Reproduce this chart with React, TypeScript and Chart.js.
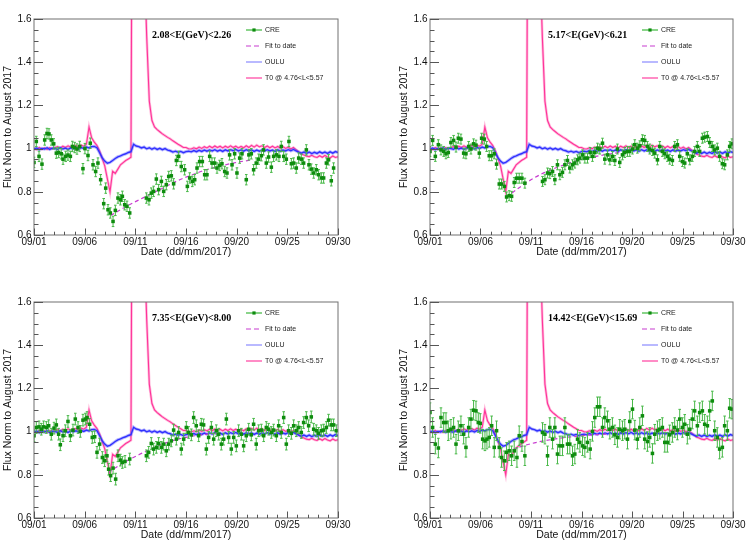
import { useEffect, useRef } from 'react';
import { Chart, registerables } from 'chart.js';

Chart.register(...registerables);

// ---------- shared axis / text data ----------
const dateLabels = ['09/01', '09/06', '09/11', '09/16', '09/20', '09/25', '09/30'];
const dateTickDays = [0, 4.833, 9.667, 14.5, 19.333, 24.167, 29];
const yTickValues = [0.6, 0.8, 1.0, 1.2, 1.4, 1.6];
const yTickLabels = ['0.6', '0.8', '1', '1.2', '1.4', '1.6'];
const legendLabels = ['CRE', 'Fit to date', 'OULU', 'T0 @ 4.76<L<5.57'];
const energyLabels = ['2.08<E(GeV)<2.26', '5.17<E(GeV)<6.21', '7.35<E(GeV)<8.00', '14.42<E(GeV)<15.69'];
const xTitle = 'Date (dd/mm/2017)';
const yTitle = 'Flux Norm to August 2017';

// ---------- OULU neutron monitor and T0 (shared by all panels) ----------
const lineDays = [0,0.25,0.5,0.75,1,1.25,1.5,1.75,2,2.25,2.5,2.75,3,3.25,3.5,3.75,4,4.25,4.5,4.75,5,5.25,5.5,5.75,6,6.25,6.5,6.75,7,7.25,7.5,7.75,8,8.25,8.5,8.75,9,9.25,9.5,9.75,10,10.25,10.5,10.75,11,11.25,11.5,11.75,12,12.25,12.5,12.75,13,13.25,13.5,13.75,14,14.25,14.5,14.75,15,15.25,15.5,15.75,16,16.25,16.5,16.75,17,17.25,17.5,17.75,18,18.25,18.5,18.75,19,19.25,19.5,19.75,20,20.25,20.5,20.75,21,21.25,21.5,21.75,22,22.25,22.5,22.75,23,23.25,23.5,23.75,24,24.25,24.5,24.75,25,25.25,25.5,25.75,26,26.25,26.5,26.75,27,27.25,27.5,27.75,28,28.25,28.5,28.75,29];

const ouluValues = [
  0.998,1.003,0.995,1.001, 0.998,1.004,0.996,1.002, 1.0,0.997,1.004,0.998, 1.002,0.996,1.003,0.999,
  1.004,0.998,1.005,1.001, 1.007,1.003,1.009,1.01, 1.004,0.982,0.958,0.942, 0.932,0.936,0.945,0.954,
  0.962,0.966,0.972,0.976, 0.982,0.986,1.02,1.012, 1.009,1.003,1.007,0.999, 1.004,0.997,1.003,0.996,
  1.001,0.995,1.0,0.993, 0.99,0.984,0.988,0.983, 0.987,0.981,0.986,0.988, 0.985,0.991,0.986,0.992,
  0.987,0.993,0.988,0.994, 0.989,0.995,0.988,0.993, 0.987,0.994,0.989,0.995, 0.99,0.996,0.989,0.994,
  0.988,0.995,0.989,0.994, 0.987,0.993,0.988,0.994, 0.989,0.995,0.989,0.993, 0.987,0.994,0.988,0.993,
  0.989,0.995,0.99,0.996, 0.99,0.984,0.979,0.984, 0.978,0.984,0.977,0.983, 0.978,0.985,0.979,0.984,
  0.978,0.985,0.979,0.986, 0.982
];

const t0Values = [
  1.0,0.995,1.005,0.997, 1.003,0.996,1.004,0.999, 1.005,1.009,1.002,1.011, 1.005,1.013,1.006,1.011,
  1.014,1.007,1.016,1.011, 1.02,1.1,1.05,1.03, 1.015,0.99,0.955,0.92, 0.86,0.8,0.895,0.885,
  0.905,0.925,0.935,0.945, 0.952,0.96,4.0,3.4, 2.8,2.3,1.9,1.52, 1.22,1.13,1.1,1.088,
  1.078,1.068,1.06,1.052, 1.045,1.036,1.028,1.02, 1.013,1.005,1.005,0.999, 0.998,1.004,0.999,1.007,
  1.001,1.009,1.003,1.011, 1.004,1.012,1.005,1.011, 1.003,1.011,1.005,1.013, 1.005,1.011,1.003,1.01,
  1.004,1.013,1.005,1.015, 1.007,1.016,1.008,1.013, 1.005,1.012,1.004,1.011, 1.003,1.01,1.002,1.009,
  1.001,1.007,0.998,1.005, 0.995,0.985,0.975,0.97, 0.965,0.963,0.969,0.962, 0.959,0.967,0.96,0.968,
  0.961,0.957,0.966,0.959, 0.962
];

// ---------- CRE points per panel: [day, normalised flux] ----------
const creTL = [[0,0.936],[0.22,1.033],[0.48,0.964],[0.76,0.928],[1.02,1.04],[1.24,1.07],[1.43,1.068],[1.65,1.04],[1.88,1.022],[2.13,0.979],[2.35,0.982],[2.6,0.976],[2.77,0.951],[3.02,0.964],[3.24,0.97],[3.47,0.964],[3.66,1.01],[3.88,1.005],[4.1,0.998],[4.36,1.01],[4.67,0.907],[4.86,1.0],[5.15,0.968],[5.37,1.025],[5.63,0.925],[5.88,0.894],[6.1,0.933],[6.36,0.856],[6.65,0.745],[6.84,0.817],[7.06,0.717],[7.28,0.702],[7.54,0.663],[7.76,0.714],[8.01,0.771],[8.24,0.763],[8.43,0.779],[8.65,0.74],[8.87,0.733],[9.13,0.702],
  [10.72,0.771],[10.97,0.763],[11.19,0.794],[11.41,0.802],[11.67,0.859],[11.89,0.81],[12.15,0.848],[12.37,0.802],[12.62,0.833],[12.85,0.871],[13.1,0.874],[13.32,0.837],[13.58,0.945],[13.8,0.964],[14.05,0.917],[14.37,0.902],[14.63,0.825],[14.85,0.864],[15.1,0.848],[15.33,0.856],[15.55,0.91],[15.8,0.94],[16.06,0.94],[16.28,0.879],[16.5,0.879],[16.76,0.964],[16.98,0.933],[17.23,0.933],[17.46,0.91],[17.71,0.922],[17.93,0.93],[18.19,0.894],[18.41,0.887],[18.66,0.971],[18.89,0.925],[19.14,0.976],[19.36,0.887],[19.62,0.956],[19.84,0.976],[20.25,0.856],[20.5,0.971],[20.73,0.976],[20.95,0.902],[21.2,0.933],[21.43,0.951],[21.69,0.967],[21.9,0.994],[22.16,0.933],[22.38,0.961],[22.64,0.914],[22.86,0.964],[23.12,0.971],[23.37,0.964],[23.59,1.01],[23.82,0.964],[24.07,0.951],[24.32,1.033],[24.55,0.93],[24.77,0.933],[25.02,0.91],[25.25,0.956],[25.5,0.951],[25.72,0.933],[25.98,0.994],[26.23,0.925],[26.45,0.905],[26.68,0.887],[26.93,0.902],[27.15,0.879],[27.41,0.864],[27.63,0.864],[27.89,0.933],[28.1,0.948],[28.36,0.851],[28.58,0.91]];

const creTR = [[0,0.987],[0.25,1.038],[0.51,0.964],[0.8,1.018],[1.05,0.994],[1.31,0.987],[1.53,0.976],[1.75,0.982],[2.0,1.028],[2.26,1.038],[2.49,1.007],[2.71,1.048],[2.96,1.044],[3.22,0.979],[3.44,0.976],[3.7,1.01],[3.92,0.998],[4.17,1.022],[4.4,1.016],[4.72,0.979],[4.94,1.048],[5.2,1.044],[5.42,1.01],[5.67,0.967],[5.9,0.967],[6.15,0.976],[6.37,0.928],[6.63,0.836],[6.85,0.836],[7.11,0.825],[7.33,0.776],[7.58,0.782],[7.81,0.779],[8.06,0.843],[8.29,0.863],[8.54,0.863],[8.8,0.863],[9.08,0.84],
  [10.77,0.848],[11.0,0.856],[11.25,0.887],[11.47,0.884],[11.73,0.894],[11.95,0.856],[12.2,0.925],[12.43,0.879],[12.68,0.89],[12.91,0.925],[13.16,0.945],[13.38,0.91],[13.64,0.925],[13.86,0.933],[14.12,0.948],[14.34,0.956],[14.6,0.971],[14.82,0.956],[15.07,0.956],[15.33,0.982],[15.55,0.964],[15.77,0.982],[16.03,1.002],[16.25,0.998],[16.51,1.025],[16.73,0.951],[16.99,0.971],[17.21,0.948],[17.46,0.964],[17.69,0.945],[17.94,0.998],[18.16,0.936],[18.42,0.971],[18.64,0.982],[18.9,0.987],[19.12,0.987],[19.38,0.998],[19.6,1.018],[19.85,1.002],[20.08,1.013],[20.33,1.041],[20.55,1.038],[20.81,1.01],[21.03,0.998],[21.29,0.991],[21.51,0.979],[21.77,0.948],[21.99,1.01],[22.24,0.987],[22.47,0.976],[22.72,0.964],[22.94,0.951],[23.2,0.945],[23.42,1.01],[23.68,1.018],[23.9,0.964],[24.16,0.94],[24.38,0.933],[24.63,0.976],[24.86,0.948],[25.11,0.964],[25.33,0.987],[25.59,1.01],[25.81,0.987],[26.07,1.048],[26.29,1.053],[26.55,1.056],[26.77,1.028],[27.02,1.01],[27.25,0.994],[27.5,1.002],[27.72,0.964],[27.98,0.93],[28.2,0.925],[28.46,0.971],[28.68,1.01],[28.9,1.022]];

const creBL = [[0,0.981],[0.22,1.019],[0.48,1.022],[0.7,1.011],[0.92,1.022],[1.18,1.019],[1.4,1.027],[1.65,0.988],[1.91,1.016],[2.13,1.031],[2.35,0.988],[2.51,0.939],[2.77,0.981],[2.99,1.004],[3.24,1.047],[3.47,0.981],[3.72,1.007],[3.94,1.058],[4.2,1.019],[4.42,1.001],[4.67,1.053],[4.9,1.058],[5.06,1.065],[5.31,1.034],[5.56,0.973],[5.79,0.976],[6.01,0.904],[6.26,0.942],[6.52,0.88],[6.74,0.865],[6.96,0.888],[7.12,0.826],[7.31,0.796],[7.54,0.831],[7.79,0.78],[8.01,0.888],[8.24,0.868],[8.43,0.857],[8.68,0.862],[9.13,0.873],
  [10.72,0.888],[10.94,0.904],[11.19,0.945],[11.41,0.919],[11.67,0.927],[11.89,0.945],[12.15,0.927],[12.37,0.942],[12.62,0.911],[12.85,0.942],[13.1,0.957],[13.32,1.007],[13.58,0.965],[13.8,0.996],[14.05,0.919],[14.28,0.965],[14.53,1.019],[14.75,0.996],[15.01,0.985],[15.23,1.065],[15.48,1.027],[15.71,0.981],[15.96,1.034],[16.18,1.031],[16.44,0.919],[16.66,0.973],[16.92,1.019],[17.14,0.965],[17.39,1.004],[17.62,0.988],[17.87,0.942],[18.09,0.965],[18.35,1.058],[18.57,0.973],[18.82,0.919],[19.05,0.973],[19.3,0.934],[19.52,1.004],[19.78,0.988],[20.0,0.934],[20.25,0.981],[20.48,1.011],[20.73,0.985],[20.95,1.034],[21.2,0.942],[21.43,1.004],[21.69,1.007],[21.91,0.981],[22.16,1.019],[22.38,1.011],[22.64,0.996],[22.86,1.007],[23.12,0.981],[23.34,1.027],[23.59,0.996],[23.82,1.065],[24.07,0.942],[24.29,1.004],[24.55,0.992],[24.77,1.027],[25.02,1.004],[25.25,1.019],[25.5,0.996],[25.72,1.042],[25.98,1.065],[26.2,1.027],[26.45,1.068],[26.68,1.011],[26.93,1.004],[27.15,0.992],[27.41,1.004],[27.63,1.007],[27.89,1.019],[28.1,1.053],[28.36,1.031],[28.58,1.031],[28.84,1.004]];

const creBR = [[0,1.088],[0.25,1.019],[0.51,0.942],[0.8,0.924],[1.05,1.065],[1.31,1.042],[1.53,1.042],[1.75,1.004],[2.0,1.011],[2.26,1.019],[2.49,0.942],[2.71,1.004],[2.96,1.027],[3.22,0.988],[3.44,0.927],[3.7,1.019],[3.92,1.058],[4.17,1.099],[4.4,1.096],[4.62,1.042],[4.81,1.038],[5.04,0.965],[5.26,0.957],[5.45,0.965],[5.67,0.973],[5.9,1.027],[6.15,0.927],[6.37,1.004],[6.63,0.927],[6.85,0.88],[7.11,0.865],[7.33,0.904],[7.58,0.911],[7.81,0.888],[8.06,0.911],[8.32,0.88],[8.54,0.981],[8.8,0.954],[9.08,0.888],
  [10.77,0.996],[11.0,0.988],[11.25,0.888],[11.47,1.019],[11.73,0.965],[11.95,1.019],[12.2,0.896],[12.43,0.934],[12.68,0.934],[12.91,1.019],[13.16,0.942],[13.38,0.942],[13.64,0.888],[13.86,0.896],[14.12,0.965],[14.34,0.95],[14.6,0.934],[14.82,0.927],[15.07,0.95],[15.33,0.919],[15.55,1.001],[15.77,1.065],[16.03,1.115],[16.25,1.115],[16.51,1.019],[16.73,1.065],[16.99,1.05],[17.21,1.011],[17.46,1.019],[17.69,0.985],[17.94,0.973],[18.16,1.011],[18.42,1.004],[18.64,1.011],[18.9,0.965],[19.12,1.047],[19.38,1.104],[19.6,1.007],[19.85,0.965],[20.08,1.019],[20.33,1.073],[20.55,0.965],[20.81,0.954],[21.03,0.973],[21.29,0.899],[21.51,0.988],[21.77,1.004],[21.99,1.011],[22.24,1.019],[22.47,0.95],[22.72,0.95],[22.94,0.985],[23.2,0.996],[23.42,1.019],[23.68,1.007],[23.9,1.058],[24.16,1.019],[24.38,1.034],[24.63,0.988],[24.86,1.011],[25.11,1.058],[25.33,1.096],[25.59,1.027],[25.81,1.088],[26.07,1.096],[26.29,1.034],[26.55,1.027],[26.77,1.096],[27.02,1.142],[27.25,1.004],[27.5,0.973],[27.72,0.919],[27.98,0.927],[28.2,1.027],[28.46,1.004],[28.68,1.108],[28.9,1.104]];

// Typical CRE error half-widths per panel
const creErrors = [0.024, 0.023, 0.027, 0.045];

// ---------- Fit to data per panel: [day, value] ----------
const fitTL = [[7.3,0.69],[8,0.71],[9,0.738],[10,0.762],[11,0.787],[12,0.81],[13,0.835],[14,0.858],[15,0.877],[16,0.895],[17,0.91],[18,0.922],[19,0.933],[20,0.942],[20.9,0.948]];
const fitTR = [[7.3,0.776],[8,0.8],[9,0.835],[10,0.865],[11,0.89],[12,0.91],[13,0.928],[14,0.943],[15,0.955],[16,0.965],[17,0.974],[18,0.981],[19.2,0.987]];
const fitBL = [[7.1,0.81],[8,0.84],[9,0.868],[10,0.893],[11,0.915],[12,0.937],[13,0.955],[14,0.968],[15,0.978],[16,0.985],[17.4,0.992]];
const fitBR = [[7.3,0.905],[8,0.918],[9,0.935],[10,0.948],[11,0.958],[12,0.966],[13,0.973],[14,0.978],[15,0.983],[16,0.986],[17,0.989]];

// ---------- styles ----------
const COL_CRE = '#0e8c0e';
const COL_CRE_ERR = '#47b847';
const COL_FIT = '#c83cd0';
const COL_OULU = '#3030ff';
const COL_T0 = '#ff3399';
const SANS = '"Liberation Sans", Arial, Helvetica, sans-serif';
const SERIF = '"Liberation Serif", "Times New Roman", serif';

type Pair = number[];
interface PanelCfg {
  cre: Pair[];
  fit: Pair[];
  err: number;
  label: string;
  x: number;
  y: number;
  h: number;
  pad: { left: number; right: number; top: number; bottom: number };
}

const panels: PanelCfg[] = [
  { cre: creTL, fit: fitTL, err: creErrors[0], label: energyLabels[0], x: 0, y: 0, h: 271, pad: { left: 34, right: 36, top: 19, bottom: 36 } },
  { cre: creTR, fit: fitTR, err: creErrors[1], label: energyLabels[1], x: 374, y: 0, h: 271, pad: { left: 56, right: 15, top: 19, bottom: 36 } },
  { cre: creBL, fit: fitBL, err: creErrors[2], label: energyLabels[2], x: 0, y: 271, h: 272, pad: { left: 34, right: 36, top: 31, bottom: 25 } },
  { cre: creBR, fit: fitBR, err: creErrors[3], label: energyLabels[3], x: 374, y: 271, h: 272, pad: { left: 56, right: 15, top: 31, bottom: 25 } },
];

function makeDecor(cfg: PanelCfg) {
  return {
    id: 'rootDecor',
    beforeDatasetDraw(chart: any, args: any) {
      if (args.index !== 0) return;
      const { ctx, chartArea } = chart;
      const xs = chart.scales.x;
      const ys = chart.scales.y;
      ctx.save();
      ctx.beginPath();
      ctx.rect(chartArea.left, chartArea.top, chartArea.right - chartArea.left, chartArea.bottom - chartArea.top);
      ctx.clip();
      ctx.strokeStyle = COL_CRE_ERR;
      ctx.lineWidth = 1;
      for (const [x, y] of cfg.cre) {
        const px = xs.getPixelForValue(x);
        const y1 = ys.getPixelForValue(y - cfg.err);
        const y2 = ys.getPixelForValue(y + cfg.err);
        ctx.beginPath();
        ctx.moveTo(px, y1);
        ctx.lineTo(px, y2);
        ctx.moveTo(px - 1.3, y1);
        ctx.lineTo(px + 1.3, y1);
        ctx.moveTo(px - 1.3, y2);
        ctx.lineTo(px + 1.3, y2);
        ctx.stroke();
      }
      ctx.restore();
    },
    afterDraw(chart: any) {
      const { ctx, chartArea } = chart;
      const { left, right, top, bottom } = chartArea;
      const xs = chart.scales.x;
      const ys = chart.scales.y;
      ctx.save();
      // frame
      ctx.strokeStyle = '#707070';
      ctx.lineWidth = 1;
      ctx.strokeRect(left, top, right - left, bottom - top);
      // y ticks (inside)
      ctx.strokeStyle = '#555';
      ctx.beginPath();
      for (let k = 0; k <= 20; k++) {
        const v = 0.6 + k * 0.05;
        const py = Math.round(ys.getPixelForValue(v)) + 0.5;
        const len = k % 4 === 0 ? 9 : 4.5;
        ctx.moveTo(left, py);
        ctx.lineTo(left + len, py);
      }
      // x ticks (inside)
      for (let i = 0; i < dateTickDays.length; i++) {
        const px = Math.round(xs.getPixelForValue(dateTickDays[i])) + 0.5;
        ctx.moveTo(px, bottom);
        ctx.lineTo(px, bottom - 6.5);
        if (i < dateTickDays.length - 1) {
          const step = (dateTickDays[i + 1] - dateTickDays[i]) / 5;
          for (let m = 1; m < 5; m++) {
            const mx = Math.round(xs.getPixelForValue(dateTickDays[i] + m * step)) + 0.5;
            ctx.moveTo(mx, bottom);
            ctx.lineTo(mx, bottom - 3.3);
          }
        }
      }
      ctx.stroke();
      // tick labels
      ctx.fillStyle = '#111';
      ctx.font = `10px ${SANS}`;
      ctx.textAlign = 'right';
      ctx.textBaseline = 'middle';
      yTickValues.forEach((v, i) => {
        ctx.fillText(yTickLabels[i], left - 2.5, ys.getPixelForValue(v));
      });
      ctx.textAlign = 'center';
      dateTickDays.forEach((d, i) => {
        ctx.fillText(dateLabels[i], xs.getPixelForValue(d), bottom + 7);
      });
      // axis titles
      ctx.font = `10.5px ${SANS}`;
      ctx.fillText(xTitle, (left + right) / 2, bottom + 17.5);
      ctx.save();
      ctx.translate(left - 26, (top + bottom) / 2);
      ctx.rotate(-Math.PI / 2);
      ctx.fillText(yTitle, 0, 0);
      ctx.restore();
      // energy label
      ctx.font = `bold 10px ${SERIF}`;
      ctx.textAlign = 'left';
      ctx.fillStyle = '#000';
      ctx.fillText(cfg.label, left + 118, top + 16);
      // legend
      const lx0 = left + 212;
      const lx1 = left + 228;
      const ltx = left + 231;
      ctx.font = `7px ${SANS}`;
      legendLabels.forEach((lab, i) => {
        const ly = top + 11 + 16 * i;
        ctx.save();
        ctx.beginPath();
        ctx.lineWidth = 1.2;
        if (i === 0) ctx.strokeStyle = '#3cb83c';
        if (i === 1) { ctx.strokeStyle = COL_FIT; ctx.setLineDash([5, 3]); }
        if (i === 2) ctx.strokeStyle = '#8a8aff';
        if (i === 3) { ctx.strokeStyle = '#ff70b8'; ctx.lineWidth = 1.6; }
        ctx.moveTo(lx0, ly);
        ctx.lineTo(lx1, ly);
        ctx.stroke();
        ctx.restore();
        if (i === 0) {
          ctx.fillStyle = COL_CRE;
          ctx.fillRect((lx0 + lx1) / 2 - 1.6, ly - 1.6, 3.2, 3.2);
        }
        ctx.fillStyle = '#222';
        ctx.fillText(lab, ltx, ly);
      });
      ctx.restore();
    },
  };
}

function Panel({ cfg }: { cfg: PanelCfg }) {
  const ref = useRef<HTMLCanvasElement>(null);
  useEffect(() => {
    const canvas = ref.current!;
    const oulu = lineDays.map((d, i) => ({ x: d, y: ouluValues[i] }));
    const t0 = lineDays.map((d, i) => ({ x: d, y: t0Values[i] }));
    const chart = new Chart(canvas, {
      type: 'line',
      data: {
        datasets: [
          {
            label: 'CRE',
            data: cfg.cre.map(([x, y]) => ({ x, y })),
            showLine: false,
            pointStyle: 'rect',
            pointRadius: 2.5,
            pointBackgroundColor: COL_CRE,
            pointBorderColor: COL_CRE,
            pointBorderWidth: 0,
          },
          {
            label: 'Fit to date',
            data: cfg.fit.map(([x, y]) => ({ x, y })),
            borderColor: COL_FIT,
            borderWidth: 1.2,
            borderDash: [4, 3],
            pointRadius: 0,
            tension: 0.4,
            cubicInterpolationMode: 'monotone',
          },
          { label: 'OULU', data: oulu, borderColor: COL_OULU, borderWidth: 1.4, pointRadius: 0, tension: 0 },
          { label: 'OULU band', data: oulu, borderColor: 'rgba(80,80,255,0.4)', borderWidth: 3.2, pointRadius: 0, tension: 0 },
          { label: 'T0', data: t0, borderColor: COL_T0, borderWidth: 1.1, pointRadius: 0, tension: 0 },
          { label: 'T0 band', data: t0, borderColor: 'rgba(255,120,185,0.5)', borderWidth: 2.6, pointRadius: 0, tension: 0 },
        ],
      },
      options: {
        animation: false,
        responsive: false,
        maintainAspectRatio: false,
        events: [],
        layout: { padding: cfg.pad },
        plugins: { legend: { display: false }, tooltip: { enabled: false }, title: { display: false } },
        scales: {
          x: { type: 'linear', min: 0, max: 29, display: false },
          y: { type: 'linear', min: 0.6, max: 1.6, display: false },
        },
      } as any,
      plugins: [makeDecor(cfg) as any],
    });
    return () => chart.destroy();
  }, [cfg]);
  return (
    <canvas
      ref={ref}
      width={374}
      height={cfg.h}
      style={{ position: 'absolute', left: cfg.x, top: cfg.y, width: 374, height: cfg.h }}
    />
  );
}

export default function App() {
  return (
    <div style={{ position: 'fixed', left: 0, top: 0, width: 748, height: 543, background: '#fff', overflow: 'hidden' }}>
      {panels.map((p, i) => (
        <Panel key={i} cfg={p} />
      ))}
    </div>
  );
}
